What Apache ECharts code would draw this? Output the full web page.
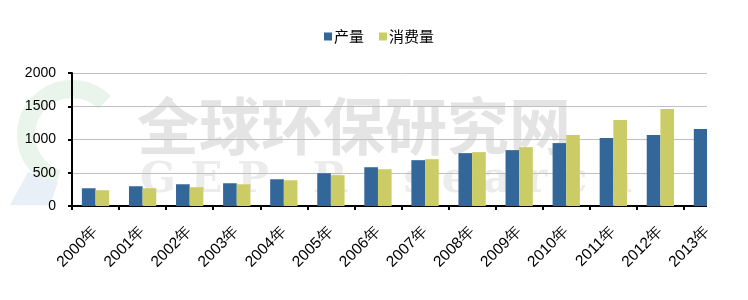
<!DOCTYPE html>
<html><head><meta charset="utf-8">
<script src="https://cdn.jsdelivr.net/npm/echarts@6/dist/echarts.min.js"></script>
<style>html,body{margin:0;padding:0;background:#fff}#c{width:748px;height:300px}</style>
</head><body><div id="c"></div>
<script>
const categories = ['2000年','2001年','2002年','2003年','2004年','2005年','2006年','2007年','2008年','2009年','2010年','2011年','2012年','2013年'];
const production = [267, 297, 327, 342, 402, 493, 583, 689, 795, 840, 946, 1021, 1066, 1157];
const consumption = [237, 267, 282, 327, 387, 463, 553, 704, 810, 885, 1066, 1292, 1458, 1609];
const seriesNames = ['产量', '消费量'];
const yMin = 0, yMax = 2000, yStep = 500;

const chart = echarts.init(document.getElementById('c'), null, {renderer: 'canvas'});
chart.setOption({
  animation: false,
  backgroundColor: '#fff',
  legend: {
    data: seriesNames,
    left: 319, top: 24,
    itemWidth: 8, itemHeight: 8, itemGap: 15,
    icon: 'rect',
    textStyle: {fontFamily: 'Noto Sans CJK SC', fontSize: 15, color: '#000', padding: [0,0,0,-3]}
  },
  grid: {left: 72, right: 17, top: 73, bottom: 94, containLabel: false},
  xAxis: {
    type: 'category', data: categories,
    axisLine: {lineStyle: {color: '#000', width: 2}},
    axisTick: {show: true, length: 4, lineStyle: {color: '#000', width: 2}},
    axisLabel: {rotate: 45, margin: 23, fontSize: 15.5, color: '#000', fontFamily: 'Liberation Sans'}
  },
  yAxis: {
    type: 'value', min: yMin, max: yMax, interval: yStep,
    axisLine: {show: true, lineStyle: {color: '#000', width: 2}},
    axisTick: {show: true, length: 4, lineStyle: {color: '#000', width: 2}},
    axisLabel: {margin: 16, fontSize: 14, color: '#000', fontFamily: 'Liberation Sans', formatter: v => String(v)},
    splitLine: {lineStyle: {color: '#c0c0c0', width: 1}}
  },
  series: [
    {name: seriesNames[0], type: 'bar', data: production, barGap: '0%', barCategoryGap: '42%', itemStyle: {color: '#336699'}},
    {name: seriesNames[1], type: 'bar', data: consumption, barGap: '0%', barCategoryGap: '42%', itemStyle: {color: '#cccc66'}}
  ],
  graphic: [
    {type: 'group', z: -10, children: [
      {type: 'arc', shape: {cx: 72, cy: 135, r: 46, startAngle: Math.PI * 1.75, endAngle: Math.PI * 0.6, clockwise: false}, style: {stroke: '#e9f4ea', lineWidth: 18, fill: null}, z: -10},
      {type: 'polygon', shape: {points: [[10, 205], [28, 172], [58, 182], [50, 205]]}, style: {fill: '#e8eff7'}, z: -10},
      {type: 'text', left: 137, top: 95, style: {text: '全球环保研究网', fontSize: 62, fontWeight: 'bold', fontFamily: 'Noto Sans CJK SC', fill: '#e4e4e4'}, z: -9},
      {type: 'text', left: 140, top: 160, style: {text: 'G E P   R e s e a r c h', fontSize: 42, fontWeight: 'bold', fontFamily: 'DejaVu Serif', fill: '#ececec'}, z: -9}
    ]},
    {type: 'rect', shape: {x: 707, y: 60, width: 41, height: 152}, style: {fill: '#fff'}, z: 100}
  ]
});
</script></body></html>
